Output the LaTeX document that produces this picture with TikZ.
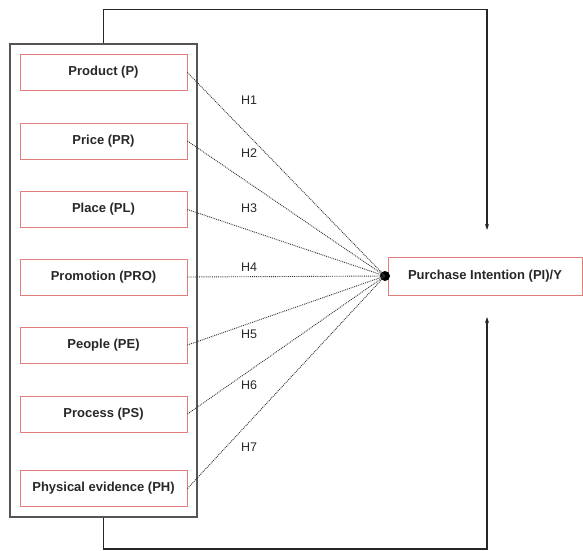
\documentclass[tikz,border=0pt]{standalone}
\usepackage{fontspec}
\setmainfont{Liberation Sans}
\usetikzlibrary{arrows.meta}
\definecolor{boxred}{RGB}{225,125,125}
\definecolor{framegray}{RGB}{85,85,85}
\definecolor{txt}{RGB}{40,40,40}
\tikzset{
  fbox/.style={draw=boxred, line width=0.9pt, fill=white, minimum width=167pt, minimum height=36pt, inner sep=0pt,
    font=\fontsize{13}{15}\selectfont\bfseries, text=txt},
  hyp/.style={draw=black!80, line width=0.9pt, densely dotted},
  hlab/.style={font=\fontsize{12.5}{14}\selectfont, text=txt, inner sep=0pt},
  conn/.style={draw=black!85, line width=1.4pt},
  tip/.style={-{Stealth[length=6pt,width=4pt]}}
}
\begin{document}
\begin{tikzpicture}[x=1pt,y=-1pt]
\useasboundingbox (0,0) rectangle (583,550);
\node[draw=framegray, line width=1.6pt, minimum width=187pt, minimum height=473pt, inner sep=0pt] (cont) at (103.5,280.5) {};
\node[fbox] (p) at (103.5,72.5) {Product (P)};
\node[fbox] (pr) at (103.5,141) {Price (PR)};
\node[fbox] (pl) at (103.5,209.5) {Place (PL)};
\node[fbox] (pro) at (103.5,277) {Promotion (PRO)};
\node[fbox] (pe) at (103.5,345) {People (PE)};
\node[fbox] (ps) at (103.5,414) {Process (PS)};
\node[fbox] (ph) at (103.5,488.5) {Physical evidence (PH)};
\node[fbox, minimum width=194pt, minimum height=38pt] (pi) at (485,276) {Purchase Intention (PI)/Y};
\node[circle, fill=black, minimum size=10pt, inner sep=0pt] (dot) at (385,276) {};
\foreach \n in {p,pr,pl,pro,pe,ps,ph} {\draw[hyp] (\n.east) -- (dot.center);}
\node[hlab] (h1) at (249,100) {H1};
\node[hlab] (h2) at (249,153) {H2};
\node[hlab] (h3) at (249,208) {H3};
\node[hlab] (h4) at (249,267) {H4};
\node[hlab] (h5) at (249,334) {H5};
\node[hlab] (h6) at (249,385) {H6};
\node[hlab] (h7) at (249,447) {H7};
\coordinate (tin) at (487,230);
\coordinate (bin) at (487,317);
\draw[conn, tip] (cont.north) -- ++(0,-34) -| (tin);
\draw[conn, tip] (cont.south) -- ++(0,31) -| (bin);
\end{tikzpicture}
\end{document}
